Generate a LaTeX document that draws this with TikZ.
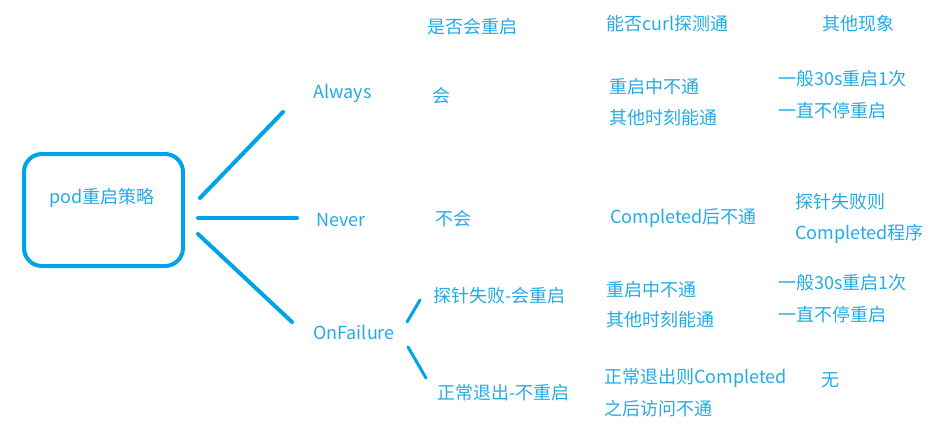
\documentclass[tikz,border=0pt]{standalone}
\usepackage{fontspec}
\setmainfont{Noto Sans CJK SC}
\usepackage{tikz}
\definecolor{txtblue}{RGB}{38,170,228}
\definecolor{lineblue}{RGB}{0,162,232}
\usetikzlibrary{positioning}

\begin{document}
\begin{tikzpicture}[x=1pt, y=-1pt,
    lbl/.style={text=txtblue, font=\fontsize{18}{21}\selectfont, inner sep=0pt, anchor=west},
    branch/.style={draw=lineblue, line width=4pt, line cap=round}]
  \useasboundingbox (0,0) rectangle (930,432);
  % root box
  \node[draw=lineblue, line width=4pt, rounded corners=18pt, minimum width=159pt, minimum height=112pt, inner sep=0pt] (root) at (103.5,210) {};
  \node[lbl, anchor=center] (rootlbl) at (102,198) {pod重启策略};
  % policies
  \node[lbl] (always) at (313,93) {Always};
  \node[lbl] (never) at (316,220) {Never};
  \node[lbl] (onfail) at (313,332) {OnFailure};
  % branches from the box
  \coordinate (a1) at (200,198);  \coordinate (a2) at (283,112);
  \coordinate (n1) at (198,218);  \coordinate (n2) at (297,218);
  \coordinate (o1) at (198,234);  \coordinate (o2) at (292,322);
  \draw[branch] (a1) -- (a2);
  \draw[branch] (n1) -- (n2);
  \draw[branch] (o1) -- (o2);
  % branches of OnFailure
  \coordinate (f1) at (407,322);  \coordinate (f2) at (420,300);
  \coordinate (g1) at (408,347);  \coordinate (g2) at (426,378);
  \draw[branch, line width=3pt] (f1) -- (f2);
  \draw[branch, line width=3pt] (g1) -- (g2);
  % headers
  \node[lbl] (hrestart) at (427,27) {是否会重启};
  \node[lbl] (hcurl) at (606,24) {能否curl探测通};
  \node[lbl] (hother) at (822,24) {其他现象};
  % Always row
  \node[lbl] (aw1) at (432,96) {会};
  \node[lbl] (aw2) at (609,87) {重启中不通};
  \node[lbl] (aw3) at (609,118) {其他时刻能通};
  \node[lbl] (aw4) at (778,79) {一般30s重启1次};
  \node[lbl] (aw5) at (778,111) {一直不停重启};
  % Never row
  \node[lbl] (nv1) at (435,219) {不会};
  \node[lbl] (nv2) at (610,218) {Completed后不通};
  \node[lbl] (nv3) at (795,202) {探针失败则};
  \node[lbl] (nv4) at (795,234) {Completed程序};
  % OnFailure rows
  \node[lbl] (of1) at (433,296) {探针失败-会重启};
  \node[lbl] (of2) at (606,290) {重启中不通};
  \node[lbl] (of3) at (606,320) {其他时刻能通};
  \node[lbl] (of4) at (778,283) {一般30s重启1次};
  \node[lbl] (of5) at (778,315) {一直不停重启};
  \node[lbl] (ok1) at (437,393) {正常退出-不重启};
  \node[lbl] (ok2) at (604,378) {正常退出则Completed};
  \node[lbl] (ok3) at (604,409) {之后访问不通};
  \node[lbl] (ok4) at (821,380) {无};
\end{tikzpicture}
\end{document}
